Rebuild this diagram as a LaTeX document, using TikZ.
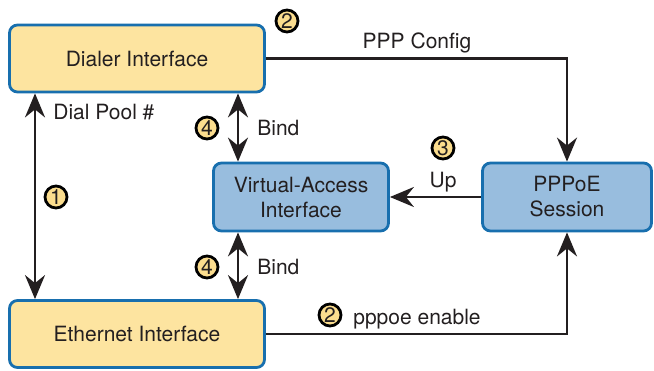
\documentclass[tikz,border=0pt]{standalone}
\usepackage{fontspec}
\setmainfont{TeX Gyre Heros}
\usetikzlibrary{arrows.meta}
\definecolor{ifyellow}{RGB}{253,228,160}
\definecolor{ifblue}{RGB}{152,189,222}
\definecolor{ifedge}{RGB}{24,111,174}
\definecolor{stepyellow}{RGB}{251,221,142}
\definecolor{inkgray}{RGB}{35,31,32}

\begin{document}
\begin{tikzpicture}[x=0.5pt,y=-0.5pt,
    font=\fontsize{10.5}{12.5}\selectfont, text=inkgray,
    >={Stealth[length=12pt,width=10pt,inset=4pt]},
    ybox/.style={draw=ifedge,line width=1.4pt,fill=ifyellow,rounded corners=4pt,
      minimum width=127.5pt,minimum height=33.5pt,inner sep=0pt},
    bbox/.style={draw=ifedge,line width=1.4pt,fill=ifblue,rounded corners=4pt,
      minimum height=34pt,inner sep=0pt,align=center},
    num/.style={circle,draw=black,line width=1.4pt,fill=stepyellow,
      minimum size=11pt,inner sep=0pt},
    link/.style={line width=1.35pt,draw=inkgray},
    lbl/.style={inner sep=0pt}]
  \useasboundingbox (0,0) rectangle (654,370);
  % interfaces and session
  \node[ybox] (dialer) at (137,58.5) {Dialer Interface};
  \node[ybox] (eth) at (137,334) {Ethernet Interface};
  \node[bbox,minimum width=87.5pt] (va) at (301,197) {Virtual-Access\\Interface};
  \node[bbox,minimum width=84.5pt] (pppoe) at (567,197) {PPPoE\\Session};
  % connectors
  \draw[link,<->] ([xshift=-51pt]dialer.south) -- ([xshift=-51pt]eth.north);
  \draw[link,<->] ([xshift=50.5pt]dialer.south) -- ([xshift=50.5pt]dialer.south |- va.north);
  \draw[link,<->] ([xshift=50.5pt]eth.north |- va.south) -- ([xshift=50.5pt]eth.north);
  \draw[link,->] (dialer.east) -| (pppoe.north);
  \draw[link,->] (pppoe.west) -- (va.east);
  \draw[link,->] (eth.east) -| (pppoe.south);
  % labels
  \node[lbl,anchor=west] (pool) at (53,112) {Dial Pool \#};
  \node[lbl,anchor=west] (bindup) at (257,128) {Bind};
  \node[lbl,anchor=west] (binddown) at (257,267) {Bind};
  \node[lbl] (cfg) at (417,43) {PPP Config};
  \node[lbl] (up) at (443,182) {Up};
  \node[lbl] (enable) at (417,319) {pppoe enable};
  % step numbers
  \foreach \name/\n/\x/\y in {stepa/2/287/21, stepb/4/207/128, stepc/1/56/197,
      stepd/4/207/267, stepe/3/443/148, stepf/2/330/315}
    \node[num] (\name) at (\x,\y) {\n};
\end{tikzpicture}
\end{document}
